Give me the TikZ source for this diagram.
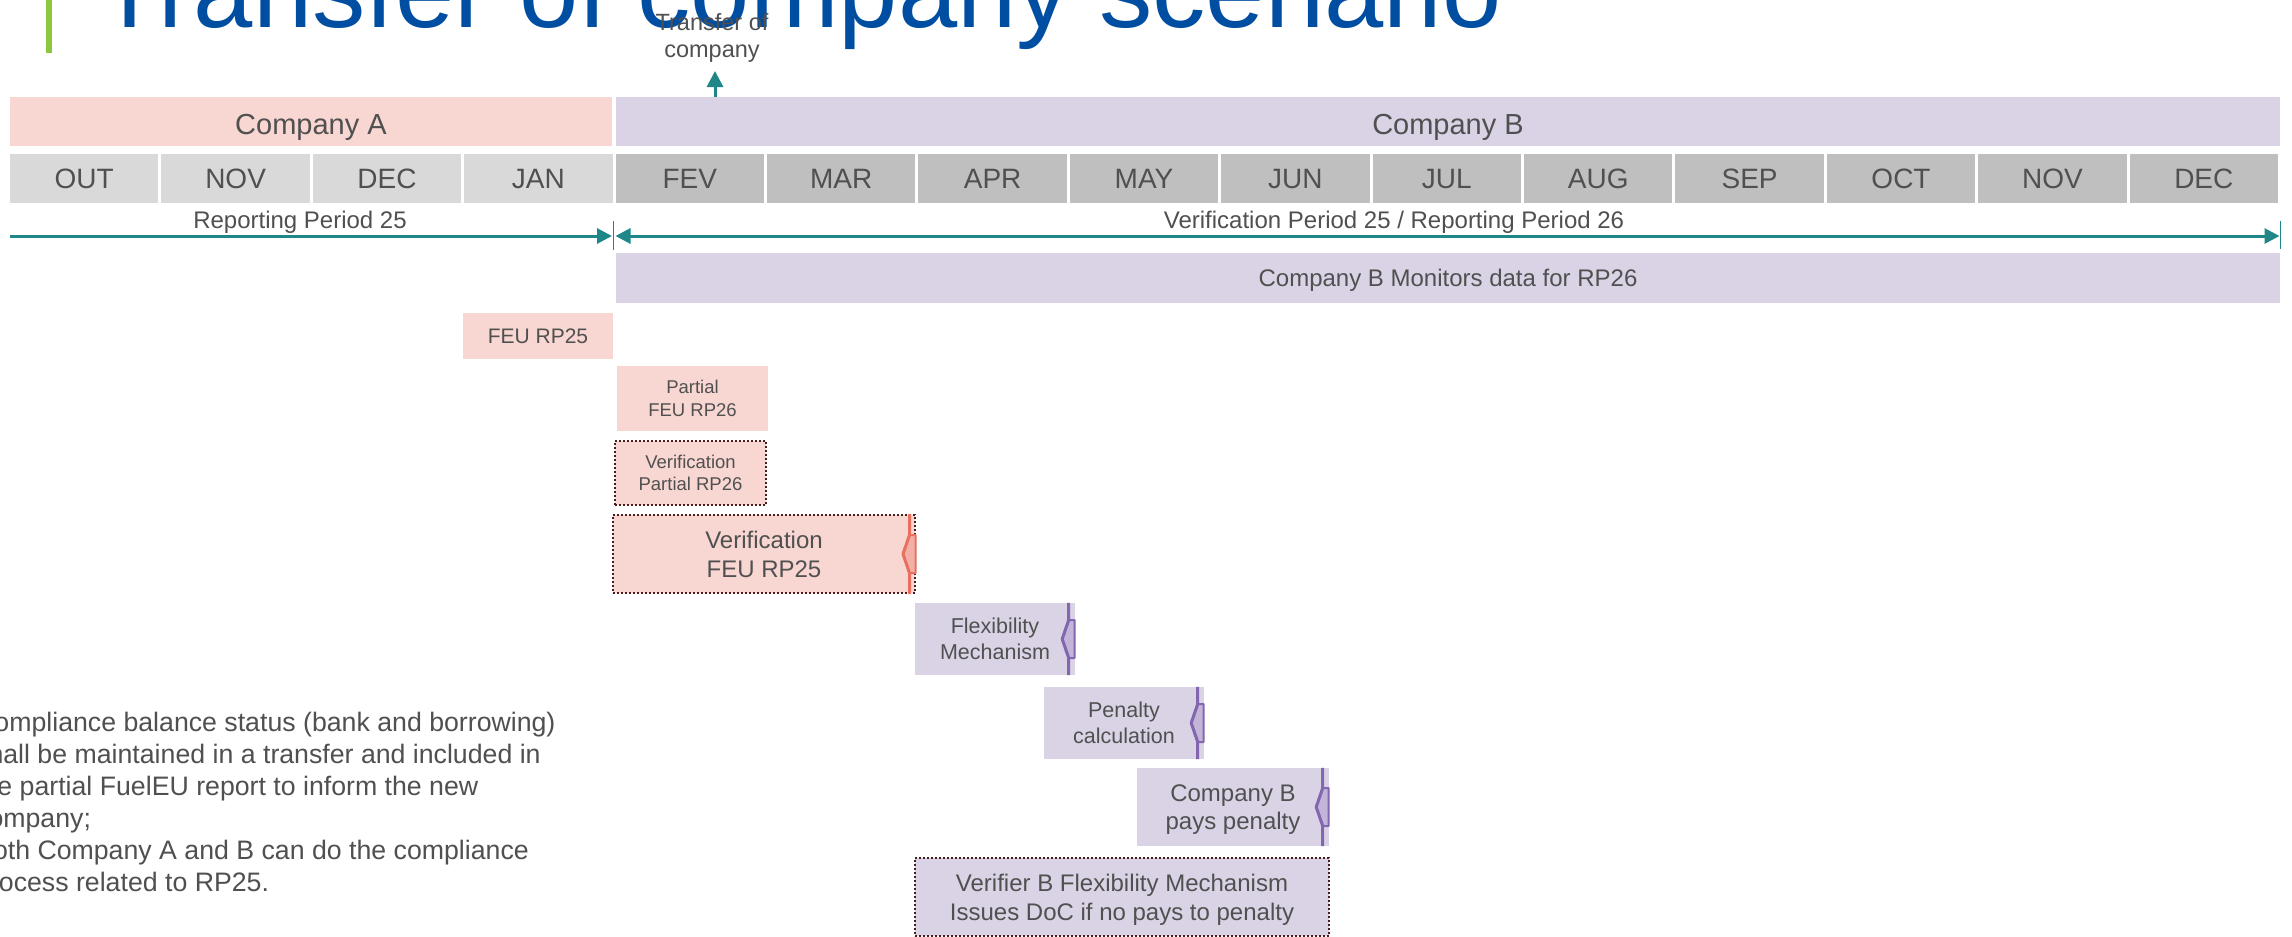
\documentclass[tikz,border=0pt]{standalone}
\usepackage{fontspec}
\setmainfont{Liberation Sans}
\usetikzlibrary{arrows.meta,calc}
\definecolor{txt}{HTML}{505050}
\definecolor{pinkA}{HTML}{F8D6D2}
\definecolor{lavB}{HTML}{DAD3E5}
\definecolor{mlight}{HTML}{D9D9D9}
\definecolor{mdark}{HTML}{BFBFBF}
\definecolor{tealc}{HTML}{1F8787}
\definecolor{titleblue}{HTML}{004EA2}
\definecolor{greenc}{HTML}{8DC63F}
\definecolor{dotc}{HTML}{4A1C1C}
\definecolor{redl}{HTML}{E8705E}
\definecolor{redf}{HTML}{F3B0A7}
\definecolor{purl}{HTML}{8266B0}
\definecolor{purf}{HTML}{C3B5D8}
\newcommand\chevmark[3]{%
  \filldraw[fill=#3, draw=#2, line width=2pt, line join=round]
    ($(#1.east)+(-6.5,-19)$) -- ($(#1.east)+(-0.5,-19)$) -- ($(#1.east)+(-0.5,19)$)
    -- ($(#1.east)+(-6.5,19)$) -- ($(#1.east)+(-13,0)$) -- cycle;
  \draw[draw=#2, line width=3pt, line join=round]
    ($(#1.north east)+(-6.5,0)$) -- ($(#1.east)+(-6.5,-19)$) -- ($(#1.east)+(-13,0)$)
    -- ($(#1.east)+(-6.5,19)$) -- ($(#1.south east)+(-6.5,0)$);}
\begin{document}
\begin{tikzpicture}[x=1pt,y=-1pt,
  cobar/.style={inner sep=0pt, minimum height=49pt, text=txt,
    font=\fontsize{29}{35}\selectfont, text height=25pt, text depth=0pt},
  monthcell/.style={inner sep=0pt, minimum width=148.4pt, minimum height=49pt, text=txt,
    font=\fontsize{28}{34}\selectfont, text height=20pt, text depth=0pt},
  task/.style={inner sep=0pt, align=center, text=txt},
  dotbox/.style={draw=dotc, line width=2pt, dash pattern=on 2pt off 2pt},
  periodtxt/.style={anchor=base, inner sep=0pt, text=txt, font=\fontsize{24}{29}\selectfont},
  periodline/.style={draw=tealc, line width=3pt}
]
\useasboundingbox (0,0) rectangle (2292,937);
\fill[white] (0,0) rectangle (2292,937);

% title
\fill[greenc] (46,0) rectangle (51.5,53);
\node[anchor=base west, inner sep=0pt, text=titleblue, font=\fontsize{106.5}{128}\selectfont] (title) at (97,27) {Transfer of company scenario};

% company bars
\node[cobar, fill=pinkA, minimum width=602pt] (compA) at (311,121.5) {Company A};
\node[cobar, fill=lavB, minimum width=1664pt] (compB) at (1448,121.5) {Company B};

% transfer label and arrow
\node[task, font=\fontsize{23.5}{27}\selectfont] (tlabel) at (712,37.5) {Transfer of\\company};
\coordinate (tA) at (715,97);
\coordinate (tB) at (715,71);
\draw[periodline, -{Triangle[length=16pt,width=16pt]}] (tA) -- (tB);

% months
\foreach \m/\c [count=\i from 0] in {OUT/mlight,NOV/mlight,DEC/mlight,JAN/mlight,FEV/mdark,MAR/mdark,APR/mdark,MAY/mdark,JUN/mdark,JUL/mdark,AUG/mdark,SEP/mdark,OCT/mdark,NOV/mdark,DEC/mdark}{
  \pgfmathsetmacro\cx{10+\i*151.4+74.2}
  \node[monthcell, fill=\c] (m\i) at (\cx,178.5) {\m};
}

% periods
\node[periodtxt] (rp25) at (300,228) {Reporting Period 25};
\node[periodtxt] (vp25) at (1394,228) {Verification Period 25 / Reporting Period 26};
\coordinate (rpA) at (10,236);
\coordinate (rpB) at (612,236);
\coordinate (vpA) at (615.5,236);
\coordinate (vpB) at (2279.5,236);
\draw[periodline, -{Triangle[length=15pt,width=15pt]}] (rpA) -- (rpB);
\draw[periodline, {Triangle[length=15pt,width=15pt]}-{Triangle[length=15pt,width=15pt]}] (vpA) -- (vpB);
\coordinate (k1a) at (613.7,221);
\coordinate (k1b) at (613.7,250);
\coordinate (k2a) at (2280.5,221);
\coordinate (k2b) at (2280.5,249);
\draw[tealc, line width=1.5pt] (k1a) -- (k1b);
\draw[tealc, line width=1.5pt] (k2a) -- (k2b);

% monitoring bar
\node[task, fill=lavB, minimum width=1664pt, minimum height=50pt, font=\fontsize{24}{29}\selectfont, text depth=0pt] (mon) at (1448,278) {Company B Monitors data for RP26};

% tasks
\node[task, fill=pinkA, minimum width=150pt, minimum height=46pt, font=\fontsize{21}{25}\selectfont, text height=15pt, text depth=0pt] (feu25) at (538,336) {FEU RP25};
\node[task, fill=pinkA, minimum width=151pt, minimum height=65pt, font=\fontsize{18.5}{23}\selectfont] (pfeu26) at (692.5,398.5) {Partial\\FEU RP26};
\node[task, dotbox, fill=pinkA, minimum width=151pt, minimum height=64pt, font=\fontsize{18.5}{22}\selectfont] (vp26) at (690.5,473) {Verification\\Partial RP26};
\node[task, dotbox, fill=pinkA, minimum width=302pt, minimum height=78pt, font=\fontsize{24}{29}\selectfont] (vfeu25) at (764,554) {Verification\\FEU RP25};
\chevmark{vfeu25}{redl}{redf}
\node[task, fill=lavB, minimum width=160pt, minimum height=72pt, font=\fontsize{21.5}{26}\selectfont] (flex) at (995,639) {Flexibility\\Mechanism};
\chevmark{flex}{purl}{purf}
\node[task, fill=lavB, minimum width=160pt, minimum height=72pt, font=\fontsize{21.5}{26}\selectfont] (pen) at (1124,723) {Penalty\\calculation};
\chevmark{pen}{purl}{purf}
\node[task, fill=lavB, minimum width=192pt, minimum height=78pt, font=\fontsize{24}{28}\selectfont, text depth=0pt] (pays) at (1233,807) {Company B\\pays penalty};
\chevmark{pays}{purl}{purf}
\node[task, dotbox, fill=lavB, minimum width=414pt, minimum height=78pt, font=\fontsize{24}{29}\selectfont, text depth=0pt] (verB) at (1122,897) {Verifier B Flexibility Mechanism\\Issues DoC if no pays to penalty};

% notes
\node[anchor=north west, align=left, inner sep=0pt, text=txt, font=\fontsize{26.7}{32}\selectfont] (note) at (-25,711.7) {Compliance balance status (bank and borrowing)\\shall be maintained in a transfer and included in\\the partial FuelEU report to inform the new\\company;\\Both Company A and B can do the compliance\\process related to RP25.};
\end{tikzpicture}
\end{document}
